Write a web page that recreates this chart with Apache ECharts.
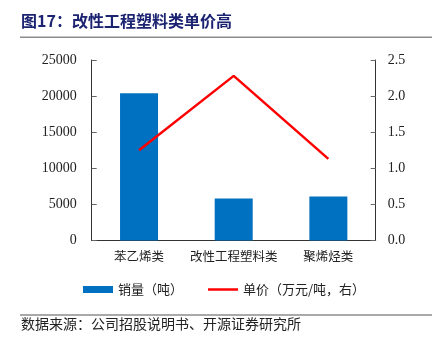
<!DOCTYPE html>
<html><head><meta charset="utf-8">
<script src="https://cdn.jsdelivr.net/npm/echarts@6/dist/echarts.min.js"></script>
<style>html,body{margin:0;padding:0;background:#fff}#c{width:440px;height:342px}</style>
</head><body><div id="c"></div>
<script>
const categories = ['苯乙烯类', '改性工程塑料类', '聚烯烃类'];
const salesVolume = [20400, 5800, 6100];
const unitPrice = [1.25, 2.28, 1.13];
const leftTicks = [0, 25000, 5000];
const rightTicks = [0, 2.5, 0.5];
const titleText = '图17：改性工程塑料类单价高';
const sourceText = '数据来源：公司招股说明书、开源证券研究所';
const seriesNames = ['销量（吨）', '单价（万元/吨，右）'];

const chart = echarts.init(document.getElementById('c'), null, {renderer: 'canvas'});
const serif = '"Liberation Serif","Times New Roman",serif';
const cjk = '"Noto Sans CJK SC",serif';
chart.setOption({
  animation: false,
  backgroundColor: '#fff',
  grid: {left: 91.7, right: 64.3, top: 60, bottom: 101.5},
  graphic: [
    {type: 'text', left: 21, top: 13, style: {text: titleText, font: 'bold 16px ' + cjk, fill: '#1c2472'}},
    {type: 'rect', shape: {x: 20, y: 36.5, width: 412, height: 1.6}, style: {fill: '#8c8c8c'}},
    {type: 'rect', shape: {x: 20, y: 314.5, width: 412, height: 1}, style: {fill: '#555'}},
    {type: 'text', left: 21, top: 317, style: {text: sourceText, font: '14px ' + cjk, fill: '#222'}}
  ],
  legend: {
    left: 78, top: 278, itemGap: 25, itemWidth: 30, itemHeight: 7,
    textStyle: {fontFamily: cjk, fontSize: 13, color: '#222', padding: [0, 0, 0, 0]},
    data: [
      {name: seriesNames[0], icon: 'rect'},
      {name: seriesNames[1], icon: 'path://M0,0H30V0.01H0Z M0,2.25H30V4.75H0Z M0,6.99H30V7H0Z'}
    ]
  },
  xAxis: {
    type: 'category', data: categories,
    axisLine: {lineStyle: {color: '#333', width: 1}},
    axisTick: {inside: true, length: 4, lineStyle: {color: '#666'}},
    axisLabel: {fontFamily: cjk, fontSize: 12.5, color: '#222', margin: 9, interval: 0}
  },
  yAxis: [
    {type: 'value', min: leftTicks[0], max: leftTicks[1], interval: leftTicks[2],
     axisLine: {show: true, lineStyle: {color: '#333'}},
     axisTick: {show: true, inside: true, length: 5, lineStyle: {color: '#666'}},
     splitLine: {show: false},
     axisLabel: {fontFamily: serif, fontSize: 14, color: '#222', margin: 15,
       formatter: v => String(v)}},
    {type: 'value', min: rightTicks[0], max: rightTicks[1], interval: rightTicks[2],
     axisLine: {show: true, lineStyle: {color: '#333'}},
     axisTick: {show: true, inside: true, length: 5, lineStyle: {color: '#666'}},
     splitLine: {show: false},
     axisLabel: {fontFamily: serif, fontSize: 14, color: '#222', margin: 12,
       formatter: v => v.toFixed(1)}}
  ],
  series: [
    {name: seriesNames[0], type: 'bar', data: salesVolume, barWidth: 38,
     itemStyle: {color: '#0070c0'}},
    {name: seriesNames[1], type: 'line', yAxisIndex: 1, data: unitPrice,
     symbol: 'none', lineStyle: {color: '#ff0000', width: 2.5}, itemStyle: {color: '#ff0000'}}
  ]
});
</script></body></html>
